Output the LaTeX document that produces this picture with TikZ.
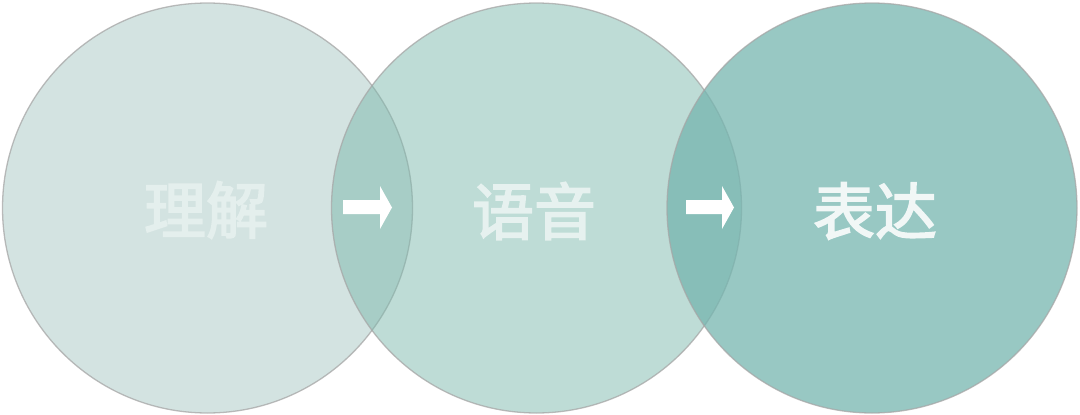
\documentclass[tikz,border=0pt]{standalone}
\usepackage{fontspec}
\newfontfamily\cjk{Noto Sans CJK SC}[FakeBold=2.5]
\definecolor{fillone}{HTML}{D3E3E1}
\definecolor{filltwo}{HTML}{7DB9AD}
\definecolor{fillthree}{HTML}{75B5AF}
\definecolor{textone}{HTML}{E4EFED}
\definecolor{texttwo}{HTML}{E6F1EF}
\definecolor{textthree}{HTML}{F1F7F6}
\begin{document}
\begin{tikzpicture}[x=1pt,y=-1pt]
      \tikzset{
        ring/.style={circle,minimum size=410pt,inner sep=0pt,draw=black!35,draw opacity=0.75,line width=1.3pt},
        word/.style={inner sep=0pt,font=\cjk\fontsize{62}{62}\selectfont}
      }
      \useasboundingbox (0,0) rectangle (1080,415);
      \node[ring,fill=fillone] (lijie) at (207.5,208) {};
      \node[ring,fill=filltwo,fill opacity=0.5] (yuyin) at (536.5,208) {};
      \node[ring,fill=fillthree,fill opacity=0.75] (biaoda) at (872,208) {};
      \node[word,text=textone] (w1) at (206,210) {理解};
      \node[word,text=texttwo] (w2) at (534,211) {语音};
      \node[word,text=textthree] (w3) at (875,211) {表达};
      % white block arrows in the overlaps
      \fill[white] (343,200) -- (380,200) -- (380,186) -- (392,207.5)
        -- (380,229) -- (380,214) -- (343,214) -- cycle;
      \fill[white] (686,200) -- (722,200) -- (722,186) -- (734,207.5)
        -- (722,229) -- (722,214) -- (686,214) -- cycle;
    \end{tikzpicture}
\end{document}
